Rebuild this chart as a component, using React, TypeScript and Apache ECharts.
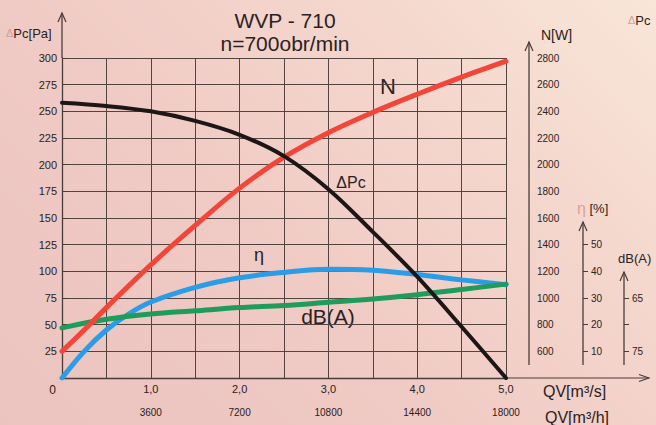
import React, { useEffect, useRef } from "react";
import * as echarts from "echarts";

// Flow rate QV [m3/s]
const qv = [0, 0.5, 1, 1.5, 2, 2.5, 3, 3.5, 4, 4.5, 5];
// Static pressure ΔPc [Pa]
const pressure = [258, 255, 250, 241, 228, 208, 177, 137, 95, 48, 0];
// Power N [W]
const qvPower = [0, 0.25, 0.5, 1, 1.5, 2, 2.5, 3, 3.5, 4, 4.5, 5];
const power = [600, 760, 928, 1248, 1544, 1824, 2056, 2240, 2392, 2528, 2656, 2776];
// Efficiency η [%]
const qvEff = [0, 0.25, 0.5, 0.75, 1, 1.5, 2, 2.5, 3, 3.5, 4, 4.5, 5];
const efficiency = [0, 10, 18, 24, 28.5, 34, 37.6, 39.6, 40.8, 40.4, 38.8, 36.8, 35];
// Noise dB(A)
const noise = [70.6, 69, 68, 67.4, 66.8, 66.4, 65.8, 65.2, 64.4, 63.4, 62.4];

// Tick labels
const flowTicksM3s = [0, 1, 2, 3, 4, 5];
const flowTicksM3h = [3600, 7200, 10800, 14400, 18000];
const powerTicks = [600, 800, 1000, 1200, 1400, 1600, 1800, 2000, 2200, 2400, 2600, 2800];
const effTicks = [10, 20, 30, 40, 50];
const noiseTicks = [65, 70, 75];
const noiseLabels = [65, 75];

const FONT = "'Liberation Sans', Arial, sans-serif";
const GRID = "#54443f";
const AX = "#4a3c3a";

const pairs = (xs: number[], ys: number[]) => xs.map((x, i) => [x, ys[i]]);

const arrowUp = (x: number, y: number) => ({
  type: "polyline",
  shape: { points: [[x - 4, y + 9], [x, y], [x + 4, y + 9]] },
  style: { stroke: AX, lineWidth: 1.2, fill: "none" },
  silent: true,
});

const vline = (x: number, y1: number, y2: number) => ({
  type: "line",
  shape: { x1: x, y1, x2: x, y2 },
  style: { stroke: AX, lineWidth: 1.3 },
  silent: true,
});

const txt = (x: number, y: number, text: string, size: number, align = "left", extra: any = {}) => ({
  type: "text",
  x,
  y,
  style: {
    text,
    fontSize: size,
    fontFamily: FONT,
    fill: "#2a2222",
    align,
    verticalAlign: "middle",
    ...extra,
  },
  silent: true,
});

const plain = (v: number) => String(v);

export default function App() {
  const ref = useRef<HTMLDivElement>(null);
  useEffect(() => {
    document.body.style.margin = "0";
    const chart = echarts.init(ref.current!, undefined, { renderer: "svg" });
    const lineSeries = (name: string, data: number[][], color: string, width: number, yAxisIndex: number) => ({
      name,
      type: "line",
      data,
      yAxisIndex,
      xAxisIndex: 0,
      smooth: 0.35,
      showSymbol: false,
      symbol: "none",
      lineStyle: { color, width, cap: "round" },
      z: 3,
    });
    chart.setOption({
      animation: false,
      backgroundColor: "transparent",
      grid: { left: 62, top: 58, right: 150, bottom: 47, containLabel: false },
      xAxis: [
        {
          type: "value",
          min: 0,
          max: 5,
          interval: 0.5,
          axisLine: { show: true, lineStyle: { color: AX, width: 1.3 } },
          axisTick: { show: false },
          splitLine: { show: true, lineStyle: { color: GRID, width: 1 } },
          axisLabel: {
            customValues: flowTicksM3s,
            margin: 5,
            fontSize: 11,
            fontFamily: FONT,
            color: "#2a2222",
            formatter: (v: number) => (v === 0 ? "{z|0}" : v.toFixed(1).replace(".", ",")),
            rich: { z: { fontSize: 12, fontFamily: FONT, color: "#2a2222", padding: [1, 19, 0, 0] } },
          },
        },
        {
          type: "value",
          min: 0,
          max: 18000,
          position: "bottom",
          offset: 24,
          axisLine: { show: false },
          axisTick: { show: false },
          splitLine: { show: false },
          axisLabel: {
            customValues: flowTicksM3h,
            margin: 5,
            fontSize: 10,
            fontFamily: FONT,
            color: "#2a2222",
            formatter: plain,
          },
        },
      ],
      yAxis: [
        {
          type: "value",
          min: 0,
          max: 300,
          interval: 25,
          position: "left",
          axisLine: { show: true, lineStyle: { color: AX, width: 1.3 } },
          axisTick: { show: false },
          splitLine: { show: true, lineStyle: { color: GRID, width: 1 } },
          axisLabel: {
            margin: 5,
            fontSize: 11,
            fontFamily: FONT,
            color: "#2a2222",
            formatter: (v: number) => (v === 0 ? "" : String(v)),
          },
        },
        {
          type: "value",
          min: 400,
          max: 2800,
          position: "right",
          offset: 23,
          axisLine: { show: false },
          axisTick: { show: true, customValues: powerTicks, length: 5, inside: false, lineStyle: { color: AX } },
          splitLine: { show: false },
          axisLabel: { customValues: powerTicks, margin: 8, fontSize: 10, fontFamily: FONT, color: "#2a2222", formatter: plain },
        },
        {
          type: "value",
          min: 0,
          max: 120,
          position: "right",
          offset: 77,
          axisLine: { show: false },
          axisTick: { show: true, customValues: effTicks, length: 5, lineStyle: { color: AX } },
          splitLine: { show: false },
          axisLabel: { customValues: effTicks, margin: 8, fontSize: 10, fontFamily: FONT, color: "#2a2222", formatter: plain },
        },
        {
          type: "value",
          min: 20,
          max: 80,
          inverse: true,
          position: "right",
          offset: 118,
          axisLine: { show: false },
          axisTick: { show: true, customValues: noiseTicks, length: 5, lineStyle: { color: AX } },
          splitLine: { show: false },
          axisLabel: { customValues: noiseLabels, margin: 8, fontSize: 10, fontFamily: FONT, color: "#2a2222", formatter: plain },
        },
      ],
      series: [
        lineSeries("η", pairs(qvEff, efficiency), "#2b9ce6", 5, 2),
        lineSeries("dB(A)", pairs(qv, noise), "#1f9c5c", 5, 3),
        lineSeries("N", pairs(qvPower, power), "#f1473a", 5, 1),
        lineSeries("ΔPc", pairs(qv, pressure), "#1d1616", 4, 0),
      ],
      graphic: [
        vline(62, 58, 13),
        arrowUp(62, 13),
        { type: "line", shape: { x1: 506, y1: 378, x2: 649, y2: 378 }, style: { stroke: AX, lineWidth: 1.2 }, silent: true },
        { type: "polyline", shape: { points: [[639, 374.5], [649, 378], [639, 381.5]] }, style: { stroke: AX, lineWidth: 1.1, fill: "none" }, silent: true },
        vline(529, 365, 42),
        arrowUp(529, 42),
        vline(583, 365, 222),
        arrowUp(583, 222),
        vline(624, 365, 272),
        arrowUp(624, 272),
        txt(285, 20, "WVP - 710", 21, "center"),
        txt(285, 43, "n=700obr/min", 21, "center"),
        {
          type: "text",
          x: 6,
          y: 33,
          style: {
            text: "{a|Δ}{b|Pc[Pa]}",
            verticalAlign: "middle",
            rich: {
              a: { fontSize: 11, fontFamily: FONT, fill: "#c9a29c", color: "#c9a29c" },
              b: { fontSize: 13, fontFamily: FONT, fill: "#2a2222", color: "#2a2222" },
            },
          },
          silent: true,
        },
        {
          type: "text",
          x: 628,
          y: 20,
          style: {
            text: "{a|Δ}{b|Pc}",
            verticalAlign: "middle",
            rich: {
              a: { fontSize: 11, fontFamily: FONT, fill: "#c9a29c", color: "#c9a29c" },
              b: { fontSize: 13, fontFamily: FONT, fill: "#2a2222", color: "#2a2222" },
            },
          },
          silent: true,
        },
        txt(541, 35, "N[W]", 14),
        {
          type: "text",
          x: 577,
          y: 208,
          style: {
            text: "{a|η}{b| [%]}",
            verticalAlign: "middle",
            rich: {
              a: { fontSize: 16, fontFamily: FONT, fill: "#dba39a", color: "#dba39a" },
              b: { fontSize: 13, fontFamily: FONT, fill: "#2a2222", color: "#2a2222" },
            },
          },
          silent: true,
        },
        txt(618, 258, "dB(A)", 13),
        txt(543, 391, "QV[m³/s]", 16),
        txt(545, 417, "QV[m³/h]", 16),
        txt(388, 86, "N", 22, "center"),
        txt(351, 182, "ΔPc", 16, "center"),
        txt(259, 255, "η", 18, "center"),
        txt(328, 316, "dB(A)", 21, "center"),
      ],
    });
    return () => chart.dispose();
  }, []);
  return (
    <div
      ref={ref}
      style={{
        position: "fixed",
        left: 0,
        top: 0,
        width: 656,
        height: 425,
        background:
          "linear-gradient(225deg, #f9e6d8 0%, #f4d6cd 30%, #f0cac4 60%, #ebc3bf 100%)",
      }}
    />
  );
}
